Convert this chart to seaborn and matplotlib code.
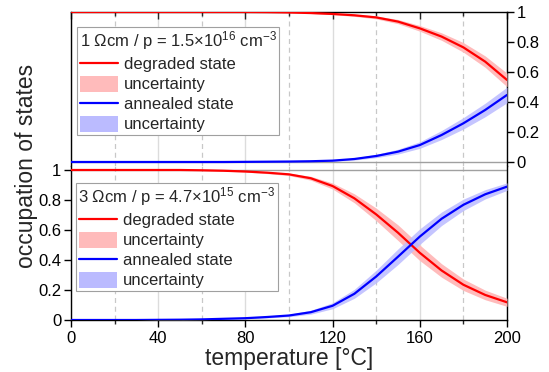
import numpy as np
import pandas as pd
import matplotlib
matplotlib.use("Agg")
import matplotlib.pyplot as plt
import seaborn as sns
from matplotlib.lines import Line2D
from matplotlib.patches import Patch
from matplotlib.ticker import MultipleLocator, FixedLocator

# ---- data ----
temperature = [0, 10, 20, 30, 40, 50, 60, 70, 80, 90, 100,
               110, 120, 130, 140, 150, 160, 170, 180, 190, 200]

# 1 Ohm cm sample (upper panel)
deg_1 = [1, 1, 1, 1, 1, 1, 1, 1, 1.0, 0.999, 0.997,
         0.993, 0.987, 0.978, 0.964, 0.936, 0.891, 0.836, 0.764, 0.669, 0.547]
deg_1_err = [0, 0, 0, 0, 0, 0, 0, 0, 0.001, 0.001, 0.002,
             0.003, 0.005, 0.007, 0.01, 0.014, 0.019, 0.025, 0.032, 0.038, 0.045]
ann_1 = [0, 0, 0, 0, 0, 0, 0, 0, 0.001, 0.002, 0.003,
         0.005, 0.009, 0.02, 0.04, 0.069, 0.113, 0.18, 0.258, 0.347, 0.447]
ann_1_err = [0, 0, 0, 0, 0, 0, 0, 0, 0.001, 0.001, 0.002,
             0.003, 0.005, 0.007, 0.011, 0.016, 0.022, 0.03, 0.038, 0.045, 0.052]

# 3 Ohm cm sample (lower panel)
deg_3 = [1, 1, 1, 1, 1, 1, 0.998, 0.995, 0.99, 0.982, 0.971,
         0.945, 0.893, 0.811, 0.704, 0.582, 0.448, 0.33, 0.235, 0.167, 0.118]
deg_3_err = [0, 0, 0, 0, 0.001, 0.001, 0.002, 0.003, 0.004, 0.006, 0.008,
             0.013, 0.02, 0.03, 0.042, 0.052, 0.052, 0.045, 0.038, 0.032, 0.027]
ann_3 = [0, 0, 0, 0, 0.001, 0.002, 0.004, 0.008, 0.012, 0.02, 0.03,
         0.052, 0.095, 0.175, 0.29, 0.422, 0.556, 0.675, 0.768, 0.838, 0.889]
ann_3_err = [0, 0, 0, 0, 0.001, 0.001, 0.002, 0.003, 0.004, 0.006, 0.008,
             0.013, 0.02, 0.03, 0.042, 0.052, 0.052, 0.045, 0.038, 0.031, 0.025]

x_ticks = [0, 40, 80, 120, 160, 200]
x_tick_labels = ["0", "40", "80", "120", "160", "200"]
y_ticks = [0, 0.2, 0.4, 0.6, 0.8, 1]
y_tick_labels = ["0", "0.2", "0.4", "0.6", "0.8", "1"]

title_1 = "1 \u03a9cm / p = 1.5\u00d710$^{16}$ cm$^{-3}$"
title_3 = "3 \u03a9cm / p = 4.7\u00d710$^{15}$ cm$^{-3}$"
series_labels = ["degraded state", "uncertainty", "annealed state", "uncertainty"]

# ---- style ----
sns.set_theme(style="ticks")
plt.rcParams["font.family"] = ["Liberation Sans", "DejaVu Sans"]
plt.rcParams["mathtext.fontset"] = "custom"
plt.rcParams["mathtext.rm"] = "Liberation Sans"
plt.rcParams["mathtext.it"] = "Liberation Sans:italic"
plt.rcParams["mathtext.bf"] = "Liberation Sans:bold"

RED = "#FF0000"
BLUE = "#0000FF"
RED_BAND = "#FFBBBB"
BLUE_BAND = "#BBBBFF"

W, H = 549, 372
fig = plt.figure(figsize=(W / 100, H / 100), dpi=100)

left = 71 / W
right = 507 / W
top_px, mid_px, bot_px = 12, 166, 320
ax_top = fig.add_axes([left, 1 - mid_px / H, right - left, (mid_px - top_px) / H])
ax_bot = fig.add_axes([left, 1 - bot_px / H, right - left, (bot_px - mid_px) / H])

ext = (mid_px - 162) / 150.0

def draw(ax, deg, deg_err, ann, ann_err):
    df = pd.DataFrame({"T": temperature, "deg": deg, "ann": ann,
                       "deg_err": deg_err, "ann_err": ann_err})
    ax.fill_between(df["T"], df["deg"] - df["deg_err"], df["deg"] + df["deg_err"],
                    color=RED_BAND, lw=0, zorder=3)
    ax.fill_between(df["T"], df["ann"] - df["ann_err"], df["ann"] + df["ann_err"],
                    color=BLUE_BAND, lw=0, zorder=3, alpha=0.85)
    sns.lineplot(data=df, x="T", y="deg", ax=ax, color=RED, lw=1.6, zorder=4)
    sns.lineplot(data=df, x="T", y="ann", ax=ax, color=BLUE, lw=1.6, zorder=4)
    ax.set_xlim(0, 200)
    ax.xaxis.set_major_locator(FixedLocator(x_ticks))
    ax.xaxis.set_minor_locator(MultipleLocator(20))
    ax.grid(True, axis="x", which="major", color="#DCDCDC", lw=1.0, ls="-", zorder=0)
    ax.grid(True, axis="x", which="minor", color="#C8C8C8", lw=0.9, ls=(0, (4, 3)), zorder=0)
    ax.set_axisbelow(True)
    ax.set_xlabel("")
    ax.set_ylabel("")
    for s in ax.spines.values():
        s.set_color("black")
        s.set_linewidth(1.0)

draw(ax_top, deg_1, deg_1_err, ann_1, ann_1_err)
draw(ax_bot, deg_3, deg_3_err, ann_3, ann_3_err)

# upper panel
ax_top.set_ylim(-ext, 1.0)
ax_top.axhline(0, color="#A0A0A0", lw=1.0, zorder=1)
ax_top.spines["bottom"].set_visible(False)
ax_top.yaxis.tick_right()
ax_top.set_yticks(y_ticks)
ax_top.set_yticklabels(y_tick_labels)
ax_top.tick_params(axis="y", which="both", right=True, left=False, direction="out",
                   length=5, width=1.0, labelsize=12, pad=2, colors="black")
ax_top.tick_params(axis="x", which="major", top=True, bottom=False, labeltop=False,
                   labelbottom=False, direction="in", length=5, width=1.0)
ax_top.tick_params(axis="x", which="minor", top=True, bottom=False, direction="in",
                   length=3, width=1.0)

# lower panel
ax_bot.set_ylim(0, 1 + ext)
ax_bot.axhline(1, color="#A0A0A0", lw=1.0, zorder=1)
ax_bot.spines["top"].set_visible(False)
ax_bot.set_yticks(y_ticks)
ax_bot.set_yticklabels(y_tick_labels)
ax_bot.set_xticklabels(x_tick_labels)
ax_bot.tick_params(axis="y", which="both", left=True, right=False, direction="out",
                   length=5, width=1.0, labelsize=12, pad=2, colors="black")
ax_bot.tick_params(axis="x", which="major", bottom=True, top=False, direction="out",
                   length=5, width=1.0, labelsize=12, pad=3, colors="black")
ax_bot.tick_params(axis="x", which="minor", bottom=True, top=False, direction="out",
                   length=3, width=1.0)
ax_bot.set_xlabel("temperature [\u00b0C]", fontsize=16.5, labelpad=1)

fig.text(27 / W, 1 - 166 / H, "occupation of states", rotation=90,
         ha="center", va="center", fontsize=16.5)

# legends
def make_legend(ax, title, x_px, y_px):
    handles = [Line2D([], [], color=RED, lw=1.6),
               Patch(facecolor=RED_BAND, edgecolor="none"),
               Line2D([], [], color=BLUE, lw=1.6),
               Patch(facecolor=BLUE_BAND, edgecolor="none")]
    leg = ax.legend(handles, series_labels, title=title, loc="upper left",
                    bbox_to_anchor=(x_px / W, 1 - y_px / H),
                    bbox_transform=fig.transFigure, borderaxespad=0,
                    fontsize=12, title_fontsize=12, alignment="left",
                    fancybox=False, framealpha=1, edgecolor="#A0A0A0",
                    handlelength=2.3, handleheight=1.1, handletextpad=0.35,
                    labelspacing=0.2, borderpad=0.15)
    leg.get_frame().set_linewidth(0.8)
    leg.set_zorder(10)
    return leg

make_legend(ax_top, title_1, 77, 27)
make_legend(ax_bot, title_3, 76, 183)

fig.savefig("out.png", dpi=100)
